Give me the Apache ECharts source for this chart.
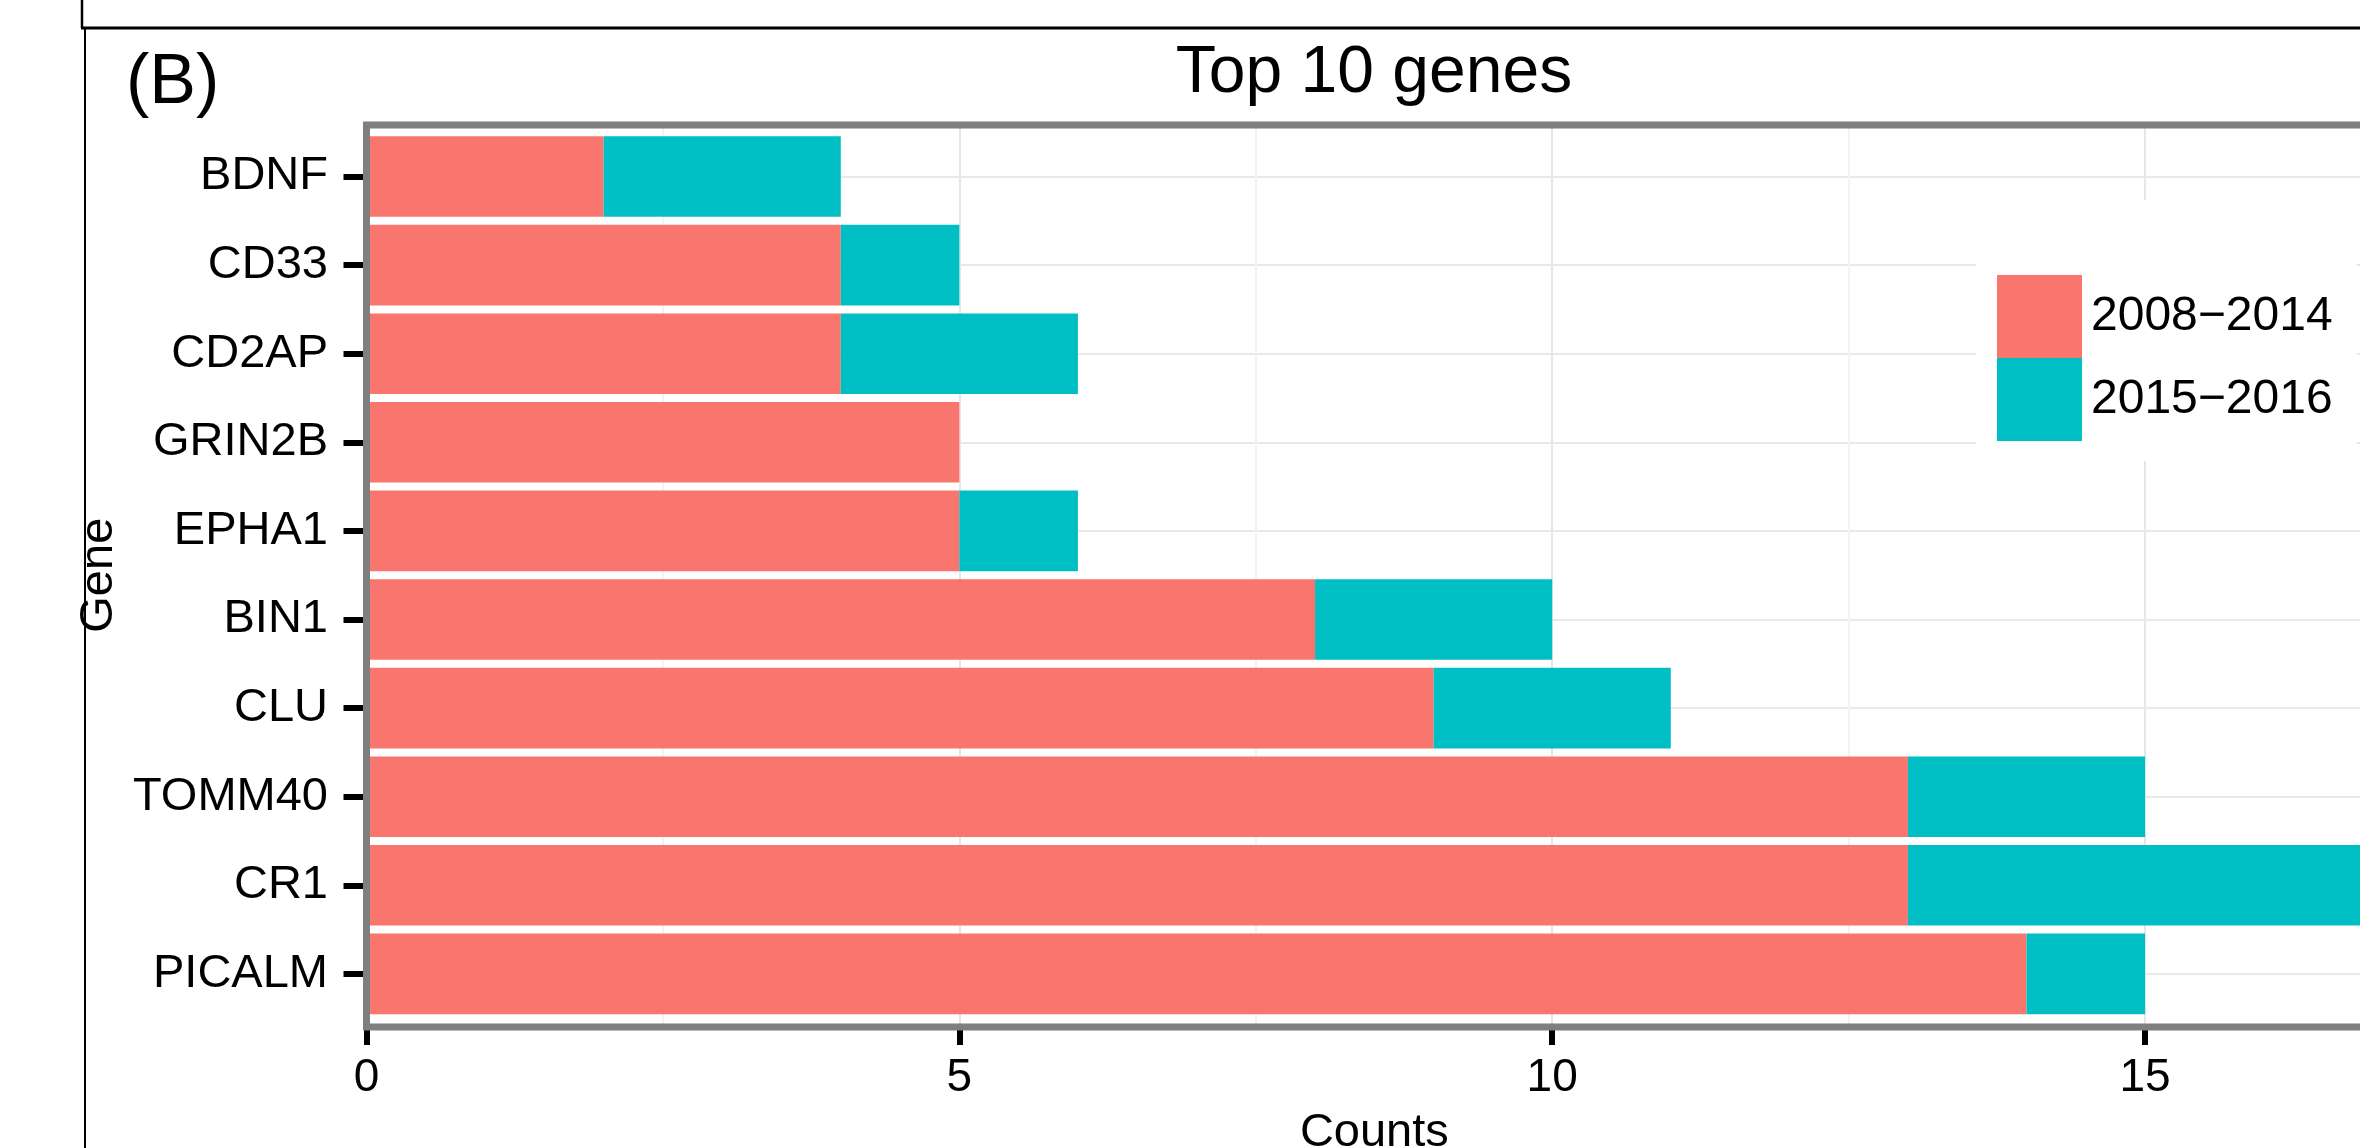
<!DOCTYPE html>
<html>
<head>
<meta charset="utf-8">
<script src="https://cdn.jsdelivr.net/npm/echarts@6/dist/echarts.min.js"></script>
<style>
  html, body { margin: 0; padding: 0; background: #fff; }
  #chart { width: 2360px; height: 1148px; }
</style>
</head>
<body>
<div id="chart"></div>
<script>
// ---- data ----
const genes = ['BDNF', 'CD33', 'CD2AP', 'GRIN2B', 'EPHA1', 'BIN1', 'CLU', 'TOMM40', 'CR1', 'PICALM'];
const counts2008to2014 = [2, 4, 4, 5, 5, 8, 9, 13, 13, 14];
const counts2015to2016 = [2, 1, 2, 0, 1, 2, 2, 2, 4, 1];
const seriesNames = ['2008\u22122014', '2015\u22122016'];
const seriesColors = ['#F8766D', '#00BFC4'];
const chartTitle = 'Top 10 genes';
const panelTag = '(B)';
const xTitle = 'Counts';
const yTitle = 'Gene';
const countMax = 17;       // data maximum (panel edge)
const gridCountMax = 20;   // extended scale for gridlines
const tickStep = 5;

const FONT = '"Liberation Sans", Arial, Helvetica, sans-serif';

// ---- layout ----
const panelLeft = 366.5;
const pxPerUnit = 118.57;
const W = 2360, H = 1148;
const rightFor = (m) => W - panelLeft - m * pxPerUnit;

const chart = echarts.init(document.getElementById('chart'), null, { renderer: 'canvas' });

const option = {
  backgroundColor: '#ffffff',
  animation: false,
  title: {
    text: chartTitle,
    left: 1374,
    top: 41,
    textAlign: 'center',
    padding: 0,
    textStyle: { fontSize: 66, fontWeight: 'normal', color: '#000', fontFamily: FONT }
  },
  legend: {
    orient: 'vertical',
    left: 1976,
    top: 200,
    padding: [75, 24, 20, 21],
    itemWidth: 85,
    itemHeight: 83,
    itemGap: 0,
    icon: 'rect',
    backgroundColor: '#ffffff',
    selectedMode: false,
    z: 6,
    data: seriesNames,
    textStyle: { fontSize: 48, color: '#000', fontFamily: FONT, padding: [0, 0, 0, 4] }
  },
  grid: [
    // bars
    { left: panelLeft, right: rightFor(gridCountMax), top: 132.2, bottom: 129.8,
      containLabel: false, outerBoundsMode: 'none' },
    // gridlines + x ticks
    { left: panelLeft, right: rightFor(gridCountMax), top: 125, bottom: 121,
      containLabel: false, outerBoundsMode: 'none' },
    // panel border
    { left: panelLeft, right: rightFor(countMax), top: 125, bottom: 121,
      containLabel: false, outerBoundsMode: 'none',
      show: true, z: 10, backgroundColor: 'transparent', borderColor: '#7f7f7f', borderWidth: 7 }
  ],
  xAxis: [
    { gridIndex: 0, type: 'value', min: 0, max: gridCountMax, interval: tickStep, show: false },
    {
      gridIndex: 1, type: 'value', min: 0, max: gridCountMax, interval: tickStep,
      axisLine: { show: false },
      axisTick: { show: true, length: 18, lineStyle: { color: '#000', width: 6 } },
      axisLabel: { show: true, fontSize: 46, color: '#000', fontFamily: FONT, margin: 28 },
      splitLine: { show: true, lineStyle: { color: '#e6e6e6', width: 2 } },
      minorTick: { show: false, splitNumber: 2 },
      minorSplitLine: { show: true, lineStyle: { color: '#f3f3f3', width: 2 } }
    },
    {
      gridIndex: 2, type: 'value', min: 0, max: countMax,
      axisLine: { show: false }, axisTick: { show: false }, axisLabel: { show: false },
      splitLine: { show: false },
      name: xTitle, nameLocation: 'middle', nameGap: 83,
      nameTextStyle: { fontSize: 47, color: '#000', fontFamily: FONT }
    }
  ],
  yAxis: [
    {
      gridIndex: 0, type: 'category', data: genes, inverse: true,
      axisLine: { show: false },
      axisTick: { show: true, alignWithLabel: true, length: 23, lineStyle: { color: '#000', width: 6 } },
      axisLabel: { show: true, fontSize: 47, color: '#000', fontFamily: FONT, margin: 38.5, padding: [8, 0, 0, 0] },
      splitLine: { show: true, alignWithLabel: true, interval: 0, lineStyle: { color: '#e8e8e8', width: 2 } },
      name: yTitle, nameLocation: 'middle', nameGap: 222, nameRotate: 90,
      nameTextStyle: { fontSize: 47, color: '#000', fontFamily: FONT }
    },
    { gridIndex: 1, type: 'value', min: 0, max: 1, show: false },
    { gridIndex: 2, type: 'value', min: 0, max: 1, show: false }
  ],
  graphic: [
    { type: 'line', shape: { x1: 82, y1: 0, x2: 82, y2: 28 }, style: { stroke: '#000', lineWidth: 2.5 } },
    { type: 'line', shape: { x1: 81, y1: 28, x2: 2360, y2: 28 }, style: { stroke: '#000', lineWidth: 3 } },
    { type: 'line', shape: { x1: 85, y1: 29, x2: 85, y2: 1148 }, style: { stroke: '#000', lineWidth: 2 } },
    { type: 'text', left: 126, top: 49, style: { text: panelTag, fontSize: 70, fontFamily: FONT, fill: '#000' } }
  ],
  series: [
    {
      name: seriesNames[0], type: 'bar', stack: 'total', xAxisIndex: 0, yAxisIndex: 0,
      barCategoryGap: '9%', data: counts2008to2014,
      itemStyle: { color: seriesColors[0] }
    },
    {
      name: seriesNames[1], type: 'bar', stack: 'total', xAxisIndex: 0, yAxisIndex: 0,
      barCategoryGap: '9%', data: counts2015to2016,
      itemStyle: { color: seriesColors[1] }
    }
  ]
};

chart.setOption(option);
</script>
</body>
</html>
